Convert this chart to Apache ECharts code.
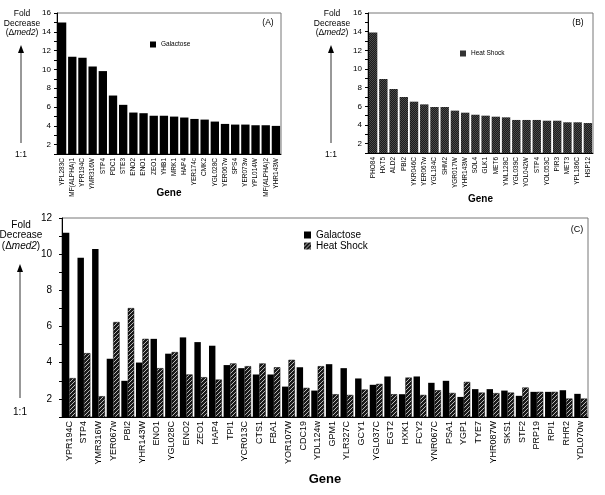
<!DOCTYPE html>
<html>
<head>
<meta charset="utf-8">
<script src="https://cdn.jsdelivr.net/npm/echarts@6/dist/echarts.min.js"></script>
<style>
  html, body { margin: 0; padding: 0; background: #fff; }
  #chart { width: 605px; height: 495px; }
</style>
</head>
<body>
<div id="chart"></div>
<script>
// panel A - galactose
const genesA = ['YPL283C', 'MF(ALPHA)1', 'YPR194C', 'YMR316W', 'STP4', 'PDC1', 'STE3', 'ENO2', 'ENO1', 'ZEO1', 'YHB1',
  'MRK1', 'HAP4', 'YER174c', 'CMK2', 'YGL028C', 'YER067w', 'SPS4', 'YER073w', 'YPL014W', 'MF(ALPHA)2', 'YHR143W'];
const galactoseA = [15.0, 11.35, 11.24, 10.31, 9.82, 7.22, 6.23, 5.41, 5.34, 5.07, 5.07,
  4.98, 4.88, 4.73, 4.66, 4.45, 4.2, 4.13, 4.13, 4.06, 4.06, 3.99];

// panel B - heat shock
const genesB = ['PHO84', 'HXT5', 'ALD2', 'PBI2', 'YKR046C', 'YER067w', 'YGL184C', 'SHM2', 'YGR017W', 'YHR143W', 'SOL4',
  'GLK1', 'MET6', 'YML128C', 'YGL039C', 'YOL042W', 'STP4', 'YOL053C', 'PIR3', 'MET3', 'YPL186C', 'HSP12'];
const heatShockB = [13.9, 8.93, 7.86, 7.0, 6.5, 6.21, 5.93, 5.93, 5.54, 5.32, 5.1,
  5.0, 4.89, 4.82, 4.54, 4.54, 4.54, 4.46, 4.46, 4.29, 4.29, 4.21];

// panel C - both conditions
const genesC = ['YPR194C', 'STP4', 'YMR316W', 'YER067w', 'PBI2', 'YHR143W', 'ENO1', 'YGL028C', 'ENO2', 'ZEO1', 'HAP4',
  'TPI1', 'YCR013C', 'CTS1', 'FBA1', 'YOR107W', 'CDC19', 'YDL124w', 'GPM1', 'YLR327C', 'GCY1', 'YGL037C',
  'EGT2', 'HXK1', 'FCY2', 'YNR067C', 'PSA1', 'YGP1', 'TYE7', 'YHR087W', 'SKS1', 'STF2', 'PRP19', 'RPI1', 'RHR2', 'YDL070w'];
const galactoseC = [11.19, 9.8, 10.28, 4.22, 3.0, 4.01, 5.32, 4.5, 5.4, 5.14, 4.94,
  3.87, 3.7, 3.35, 3.35, 2.68, 3.75, 2.46, 3.92, 3.7, 3.13, 2.78,
  3.24, 2.26, 3.24, 2.89, 3.0, 2.11, 2.54, 2.54, 2.46, 2.17, 2.39, 2.39, 2.48, 2.28];
const heatShockC = [3.15, 4.53, 2.15, 6.25, 7.02, 5.32, 3.7, 4.59, 3.35, 3.2, 3.07,
  3.96, 3.81, 3.96, 3.75, 4.16, 2.61, 3.81, 2.26, 2.22, 2.52, 2.83,
  2.26, 3.18, 2.22, 2.48, 2.33, 2.94, 2.35, 2.32, 2.35, 2.63, 2.39, 2.39, 2.02, 2.02];

const FONT = '"Liberation Sans", Arial, sans-serif';

// 填充纹理
function makePattern(size, draw) {
  const c = document.createElement('canvas');
  c.width = size;
  c.height = size;
  draw(c.getContext('2d'), size);
  return { image: c, repeat: 'repeat' };
}
const crossPattern = makePattern(2, (ctx) => {
  ctx.fillStyle = '#1c1c1c';
  ctx.fillRect(0, 0, 2, 2);
  ctx.fillStyle = '#4a4a4a';
  ctx.fillRect(0, 0, 1, 1);
  ctx.fillRect(1, 1, 1, 1);
});
const hatchPattern = makePattern(4, (ctx, s) => {
  ctx.fillStyle = '#1a1a1a';
  ctx.fillRect(0, 0, s, s);
  ctx.strokeStyle = '#b8b8b8';
  ctx.lineWidth = 1;
  ctx.beginPath();
  ctx.moveTo(-1, s + 1);
  ctx.lineTo(s + 1, -1);
  ctx.stroke();
});

function xAxisFor(idx, data, fontSize, gap, nameSize) {
  return {
    type: 'category',
    gridIndex: idx,
    data: data,
    name: 'Gene',
    nameLocation: 'middle',
    nameGap: gap,
    nameMoveOverlap: false,
    nameTextStyle: { fontFamily: FONT, fontWeight: 'bold', fontSize: nameSize, color: '#000' },
    axisLine: { lineStyle: { color: '#000', width: 1 } },
    axisTick: { length: 3, lineStyle: { color: '#000' } },
    axisLabel: { rotate: 90, interval: 0, fontSize: fontSize, fontFamily: FONT, color: '#000', margin: 4 }
  };
}

function yAxisFor(idx, max, fontSize, margin) {
  return {
    type: 'value',
    gridIndex: idx,
    min: 1,
    max: max,
    interval: 1,
    splitLine: { show: false },
    axisLine: { show: true, lineStyle: { color: '#000', width: 1 } },
    axisTick: { show: true, length: 3, lineStyle: { color: '#000' } },
    axisLabel: {
      fontSize: fontSize, fontFamily: FONT, color: '#000', margin: margin,
      formatter: (v) => (v % 2 === 0 ? String(v) : '')
    }
  };
}

// 左侧 "Fold Decrease" 与箭头
function sideNote(cx, y0, lineH, arrowTop, arrowBottom, oneY, fontSize) {
  const st = { fontFamily: FONT, fontSize: fontSize, fill: '#000', align: 'center', verticalAlign: 'middle' };
  return [
    { type: 'text', x: cx, y: y0, style: Object.assign({ text: 'Fold' }, st) },
    { type: 'text', x: cx, y: y0 + lineH, style: Object.assign({ text: 'Decrease' }, st) },
    {
      type: 'text', x: cx, y: y0 + 2 * lineH,
      style: Object.assign({
        text: '({a|Δ}{b|med2})',
        rich: { a: { fontFamily: FONT, fontSize: fontSize }, b: { fontFamily: FONT, fontSize: fontSize, fontStyle: 'italic' } }
      }, st)
    },
    {
      type: 'line',
      shape: { x1: cx - 1, y1: arrowTop + 6, x2: cx - 1, y2: arrowBottom },
      style: { stroke: '#333', lineWidth: 1 }
    },
    {
      type: 'polygon',
      shape: { points: [[cx - 1, arrowTop], [cx - 4, arrowTop + 8], [cx + 2, arrowTop + 8]] },
      style: { fill: '#000' }
    },
    { type: 'text', x: cx - 1, y: oneY, style: Object.assign({ text: '1:1' }, st) }
  ];
}

function panelTag(x, y, text, fontSize) {
  return { type: 'text', x: x, y: y, style: { text: text, fontFamily: FONT, fontSize: fontSize, fill: '#000', align: 'center', verticalAlign: 'middle' } };
}

const gridStyle = { show: true, borderColor: '#777', borderWidth: 1, backgroundColor: 'transparent' };

const chart = echarts.init(document.getElementById('chart'), null, { renderer: 'canvas' });

chart.setOption({
  animation: false,
  backgroundColor: '#fff',
  textStyle: { fontFamily: FONT },
  grid: [
    Object.assign({ left: 57, top: 13, width: 224, height: 141 }, gridStyle),
    Object.assign({ left: 368, top: 13, width: 225, height: 140 }, gridStyle),
    Object.assign({ left: 62, top: 218, width: 526, height: 199 }, gridStyle)
  ],
  xAxis: [
    xAxisFor(0, genesA, 6.5, 34, 10),
    xAxisFor(1, genesB, 6.5, 41, 10),
    xAxisFor(2, genesC, 9, 56, 13)
  ],
  yAxis: [
    yAxisFor(0, 16, 8, 6),
    yAxisFor(1, 16, 8, 6),
    yAxisFor(2, 12, 10, 10)
  ],
  legend: [
    {
      data: ['Galactose'], left: 145, top: 36, itemWidth: 6, itemHeight: 6, icon: 'rect',
      textStyle: { fontSize: 6.5, fontFamily: FONT, color: '#000' }, selectedMode: false
    },
    {
      data: ['Heat Shock'], left: 455, top: 45, itemWidth: 6, itemHeight: 6, icon: 'rect',
      textStyle: { fontSize: 6.5, fontFamily: FONT, color: '#000' }, selectedMode: false
    },
    {
      data: ['Galactose', { name: 'Heat Shock', itemStyle: { color: hatchPattern } }],
      orient: 'vertical', left: 299, top: 225, itemWidth: 7, itemHeight: 7, itemGap: 1, icon: 'rect',
      textStyle: { fontSize: 10, fontFamily: FONT, color: '#000' }, selectedMode: false
    }
  ],
  series: [
    {
      name: 'Galactose', type: 'bar', xAxisIndex: 0, yAxisIndex: 0, data: galactoseA,
      barCategoryGap: '18%', clip: true, itemStyle: { color: '#000' }
    },
    {
      name: 'Heat Shock', type: 'bar', xAxisIndex: 1, yAxisIndex: 1, data: heatShockB,
      barCategoryGap: '18%', clip: true, itemStyle: { color: crossPattern }
    },
    {
      name: 'Galactose', type: 'bar', xAxisIndex: 2, yAxisIndex: 2, data: galactoseC,
      barGap: '0%', barCategoryGap: '12%', clip: true, itemStyle: { color: '#000' }
    },
    {
      name: 'Heat Shock', type: 'bar', xAxisIndex: 2, yAxisIndex: 2, data: heatShockC,
      barGap: '0%', barCategoryGap: '12%', clip: true,
      itemStyle: { color: hatchPattern, borderColor: '#000', borderWidth: 0.5 }
    }
  ],
  graphic: [].concat(
    sideNote(22, 14, 9.5, 45, 143, 155, 8.5),
    sideNote(332, 14, 9.5, 45, 143, 155, 8.5),
    sideNote(21, 225, 10.5, 264, 398, 412, 10),
    [
      panelTag(268, 23, '(A)', 8.5),
      panelTag(578, 23, '(B)', 8.5),
      panelTag(577, 230, '(C)', 9)
    ]
  )
});
</script>
</body>
</html>
